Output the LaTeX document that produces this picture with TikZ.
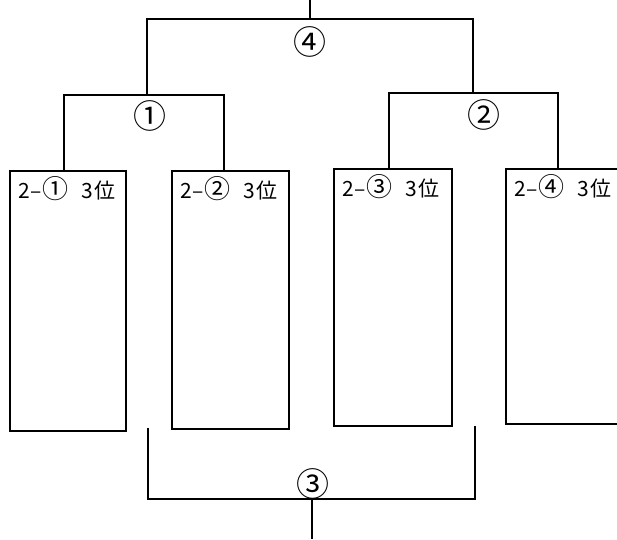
\documentclass[tikz,border=0pt]{standalone}
\usepackage{fontspec}
\newfontfamily\jp{Noto Sans CJK JP}
\newcommand{\boxlabel}[1]{2\kern1pt–\kern1pt{\fontsize{26}{26}\selectfont #1}\hspace{0.6em}3\kern1pt 位}
\begin{document}
\begin{tikzpicture}[x=1pt,y=-1pt,
  line width=2pt,
  box/.style={draw, rectangle, anchor=north west, inner sep=0pt},
  boxtext/.style={anchor=north west, inner sep=0pt, font=\jp\fontsize{21}{21}\selectfont},
  num/.style={inner sep=0pt, font=\jp\fontsize{33}{33}\selectfont}]
\useasboundingbox (0,0) rectangle (617,539);
\begin{scope}
\clip (0,0) rectangle (617,539);
\node[box, minimum width=116pt, minimum height=260pt] (b1) at (9,170) {};
\node[box, minimum width=117pt, minimum height=258pt] (b2) at (171,170) {};
\node[box, minimum width=118pt, minimum height=257pt] (b3) at (333,168) {};
\node[box, minimum width=140pt, minimum height=255pt] (b4) at (505,168) {};
\end{scope}
\node[boxtext] (t1) at (17,175) {\boxlabel{①}};
\node[boxtext] (t2) at (179,175) {\boxlabel{②}};
\node[boxtext] (t3) at (341,173) {\boxlabel{③}};
\node[boxtext] (t4) at (513,173) {\boxlabel{④}};
\coordinate (m1) at (147,95);
\coordinate (m2) at (473,93);
\coordinate (m4) at (310,19);
\coordinate (top) at (310,0);
\coordinate (bl) at (148,428);
\coordinate (br) at (475,426);
\coordinate (m3) at (312,499);
\coordinate (bot) at (312,539);
\draw ([xshift=-4pt]b1.north) |- (m1) -| ([xshift=-7pt]b2.north);
\draw ([xshift=-4pt]b3.north) |- (m2) -| ([xshift=53pt]b4.north west);
\draw (m1) |- (m4) -| (m2);
\draw (m4) -- (top);
\draw (bl) |- (m3) -| (br);
\draw (m3) -- (bot);
\node[num] (n4) at (310,42) {④};
\node[num] (n1) at (150,116) {①};
\node[num] (n2) at (484,115) {②};
\node[num] (n3) at (313,484) {③};
\end{tikzpicture}
\end{document}
